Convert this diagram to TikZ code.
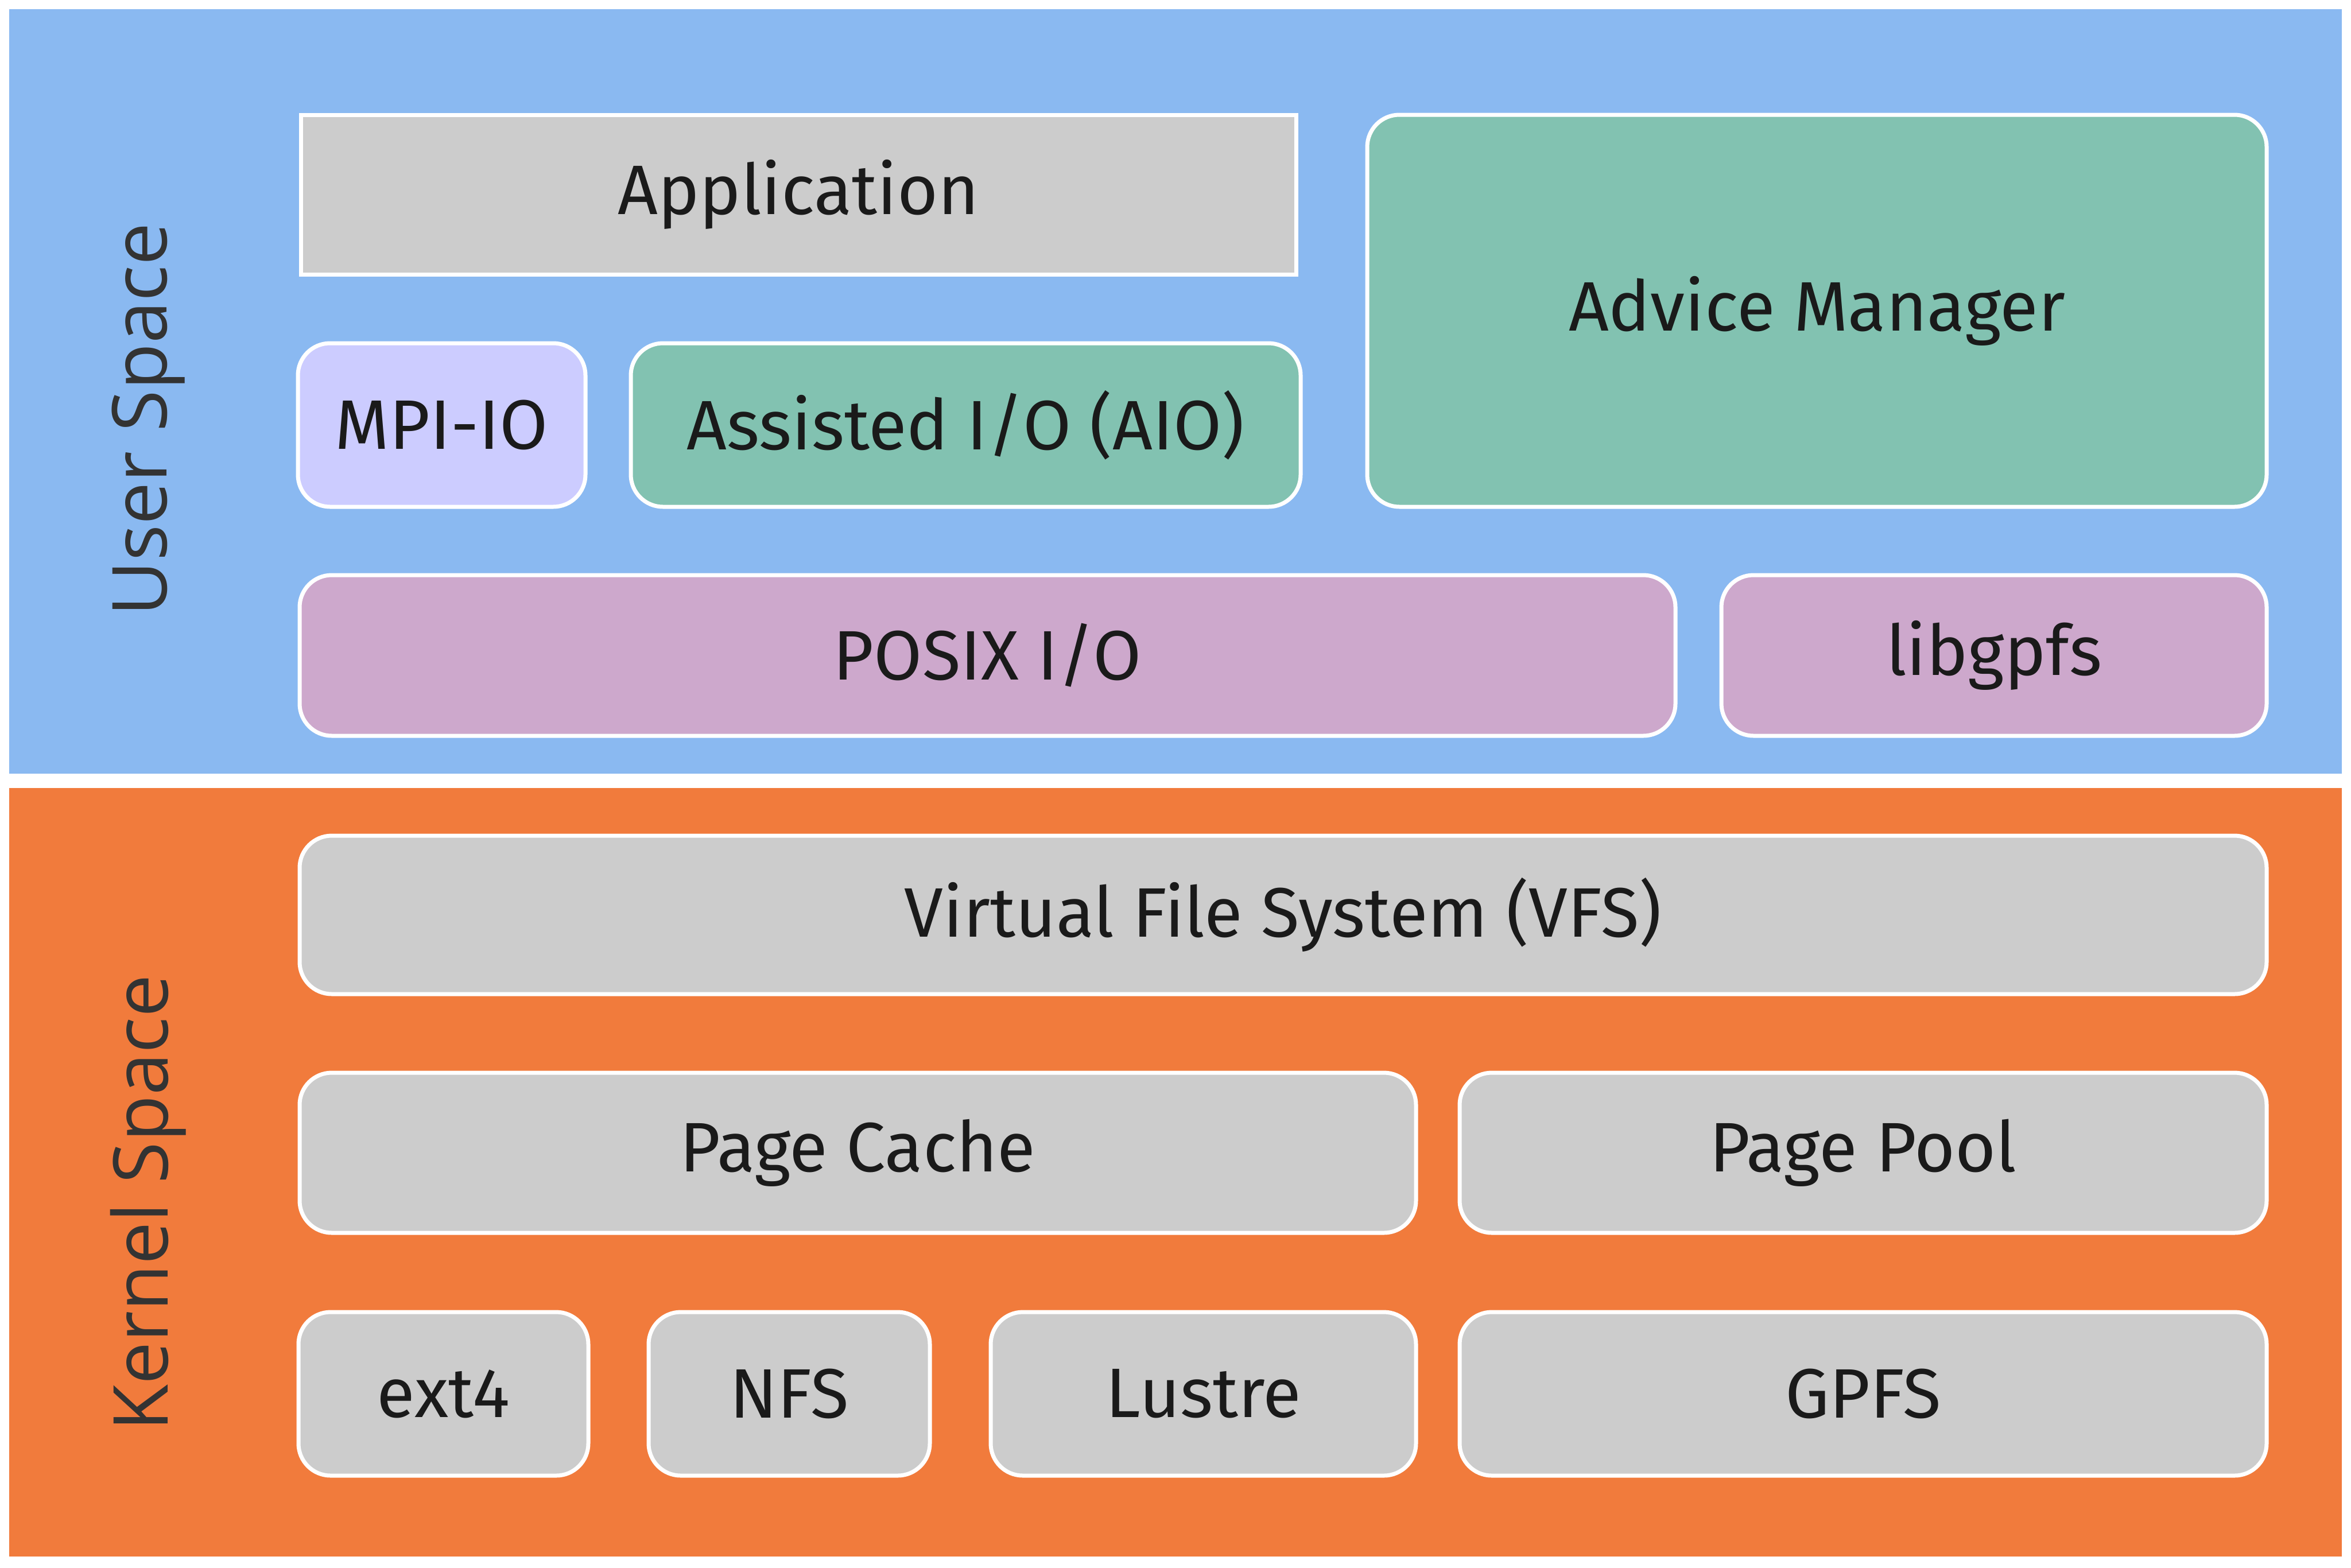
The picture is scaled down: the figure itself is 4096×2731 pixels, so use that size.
\documentclass[tikz,border=0pt]{standalone}
\usepackage{fontspec}
\setmainfont{Fira Sans}
\newfontfamily\labelfont{Open Sans}
\definecolor{userblue}{HTML}{8AB9F1}
\definecolor{kernorange}{HTML}{F17B3C}
\definecolor{boxgray}{HTML}{CCCCCC}
\definecolor{aiogreen}{HTML}{82C2B1}
\definecolor{mpilav}{HTML}{CCCCFF}
\definecolor{posixpink}{HTML}{CDA8CC}
\definecolor{txtdark}{HTML}{1A1A1A}
\definecolor{lbldark}{HTML}{333333}
\begin{document}
\begin{tikzpicture}[x=0.25pt,y=-0.25pt,
  layerbox/.style={draw=none, inner sep=0pt, minimum width=1016pt},
  blk/.style={draw=white, line width=1.75pt, rounded corners=14pt, inner sep=0pt,
    text=txtdark, font=\fontsize{30.5}{36}\selectfont},
  sidelabel/.style={rotate=90, anchor=base, text=lbldark,
    font=\labelfont\fontsize{33}{38}\selectfont}]
\useasboundingbox (0,0) rectangle (4096,2731);
\fill[white] (0,0) rectangle (4096,2731);
% layers
\node[layerbox, fill=userblue, minimum height=333pt] (user) at (2048,682) {};
\node[layerbox, fill=kernorange, minimum height=334.75pt] (kernel) at (2048,2042.5) {};
\node[sidelabel] (ulabel) at (290,731) {User Space};
\node[sidelabel] (klabel) at (292,2096) {Kernel Space};
% user space
\node[blk, sharp corners, fill=boxgray, minimum width=433.5pt, minimum height=69.5pt] (app) at (1391,339) {Application};
\node[blk, fill=mpilav, minimum width=125.25pt, minimum height=71.25pt] (mpi) at (769.5,740.5) {MPI-IO};
\node[blk, fill=aiogreen, minimum width=291.75pt, minimum height=71.25pt] (aio) at (1682.5,740.5) {Assisted I/O (AIO)};
\node[blk, fill=aiogreen, minimum width=391.75pt, minimum height=170.75pt] (advice) at (3165.5,541.5) {Advice Manager};
\node[blk, fill=posixpink, minimum width=599.25pt, minimum height=70pt] (posix) at (1720.5,1142) {POSIX I/O};
\node[blk, fill=posixpink, minimum width=237.5pt, minimum height=70pt] (libgpfs) at (3474,1142) {libgpfs};
% kernel space
\node[blk, fill=boxgray, minimum width=856.75pt, minimum height=69pt] (vfs) at (2235.5,1594) {Virtual File System (VFS)};
\node[blk, fill=boxgray, minimum width=486.25pt, minimum height=69.75pt] (pcache) at (1494.5,2008.5) {Page Cache};
\node[blk, fill=boxgray, minimum width=351.5pt, minimum height=69.75pt] (ppool) at (3246,2008.5) {Page Pool};
\node[blk, fill=boxgray, minimum width=126.25pt, minimum height=71.25pt] (ext) at (772.5,2428.5) {ext4};
\node[blk, fill=boxgray, minimum width=122.5pt, minimum height=71.25pt] (nfs) at (1375,2428.5) {NFS};
\node[blk, fill=boxgray, minimum width=185.25pt, minimum height=71.25pt] (lustre) at (2096.5,2428.5) {Lustre};
\node[blk, fill=boxgray, minimum width=351.5pt, minimum height=71.25pt] (gpfs) at (3246,2428.5) {GPFS};
\end{tikzpicture}
\end{document}
